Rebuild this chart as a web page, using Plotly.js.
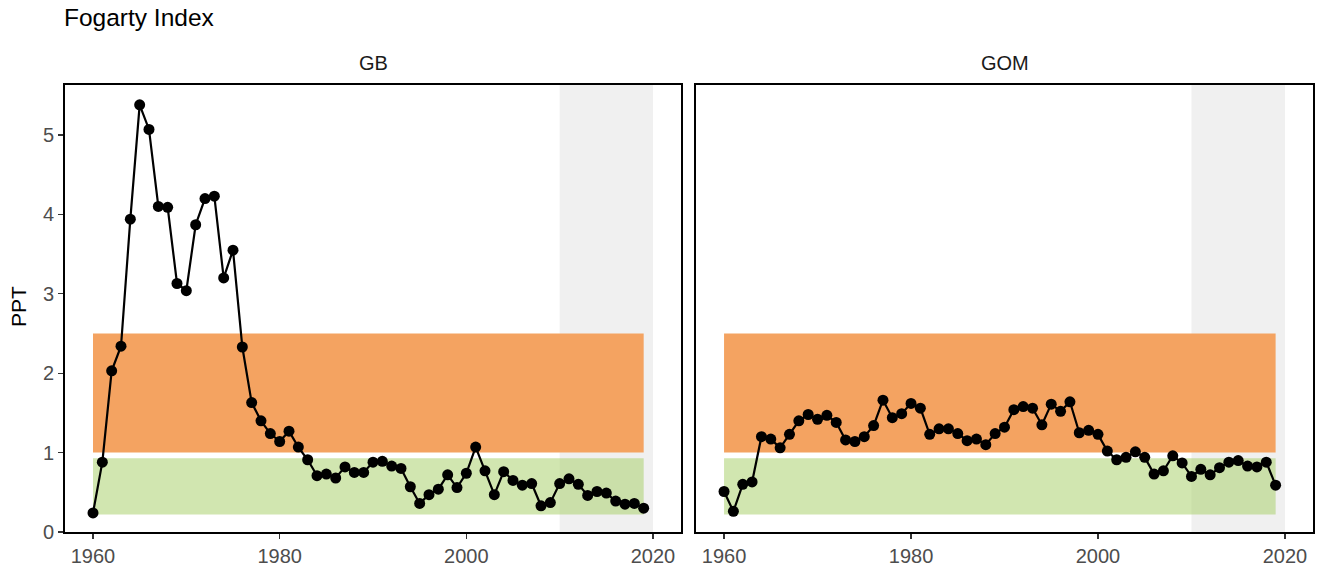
<!DOCTYPE html>
<html>
<head>
<meta charset="utf-8">
<script src="https://cdn.plot.ly/plotly-3.0.1.min.js"></script>
<style>html,body{margin:0;padding:0;background:#fff;}#chart{width:1320px;height:569px;}</style>
</head>
<body>
<div id="chart"></div>
<script>
// ---- data ----
const years = [1960,1961,1962,1963,1964,1965,1966,1967,1968,1969,
  1970,1971,1972,1973,1974,1975,1976,1977,1978,1979,
  1980,1981,1982,1983,1984,1985,1986,1987,1988,1989,
  1990,1991,1992,1993,1994,1995,1996,1997,1998,1999,
  2000,2001,2002,2003,2004,2005,2006,2007,2008,2009,
  2010,2011,2012,2013,2014,2015,2016,2017,2018,2019];
const gbValues = [0.24,0.88,2.03,2.34,3.94,5.38,5.07,4.10,4.09,3.13,
  3.04,3.87,4.20,4.23,3.20,3.55,2.33,1.63,1.40,1.24,
  1.14,1.27,1.07,0.91,0.71,0.73,0.68,0.82,0.75,0.75,
  0.88,0.89,0.83,0.80,0.57,0.36,0.47,0.54,0.72,0.56,
  0.74,1.07,0.77,0.47,0.76,0.65,0.59,0.61,0.33,0.37,
  0.61,0.67,0.60,0.46,0.51,0.49,0.39,0.35,0.36,0.30];
const gomValues = [0.51,0.26,0.60,0.63,1.20,1.17,1.06,1.23,1.40,1.48,
  1.42,1.47,1.38,1.16,1.14,1.20,1.34,1.66,1.44,1.49,
  1.62,1.56,1.23,1.30,1.30,1.24,1.15,1.17,1.10,1.24,
  1.32,1.54,1.58,1.56,1.35,1.61,1.52,1.64,1.25,1.28,
  1.23,1.02,0.91,0.94,1.01,0.94,0.73,0.77,0.96,0.87,
  0.70,0.79,0.72,0.81,0.88,0.90,0.83,0.82,0.88,0.59];
const panels = ["GB", "GOM"];
const ribbonYears = [1960, 2019];
const highBand = [1.0, 2.5];
const lowBand = [0.22, 0.93];
const recentYears = [2010, 2020];
const xTicks = [1960, 1980, 2000, 2020];
const yTicks = [0, 1, 2, 3, 4, 5];

// ---- layout ----
const W = 1320, H = 569;
const FONT = "Liberation Sans, Arial, sans-serif";
const frameTop = 85, frameBottom = 532;
const panelX = [[65, 681], [696, 1313]];
const yDom = [1 - frameBottom / H, 1 - frameTop / H];

function axisBase() {
  return {
    showline: true, mirror: true, linecolor: "#000", linewidth: 2,
    showgrid: false, zeroline: false,
    ticks: "outside", ticklen: 5, tickwidth: 1.2, tickcolor: "#333",
    tickfont: {family: FONT, size: 20, color: "#4d4d4d"}
  };
}

const traces = [];
const shapes = [];
const annotations = [];
const layout = {
  width: W, height: H,
  margin: {l: 0, r: 0, t: 0, b: 0},
  paper_bgcolor: "#fff", plot_bgcolor: "#fff",
  showlegend: false,
  font: {family: FONT}
};

const series = [gbValues, gomValues];
panels.forEach((name, i) => {
  const xa = i === 0 ? "x" : "x2";
  const ya = i === 0 ? "y" : "y2";
  const xKey = i === 0 ? "xaxis" : "xaxis2";
  const yKey = i === 0 ? "yaxis" : "yaxis2";
  layout[xKey] = Object.assign(axisBase(), {
    domain: [panelX[i][0] / W, panelX[i][1] / W],
    range: [1957, 2023], tickvals: xTicks, ticktext: xTicks.map(String),
    anchor: ya
  });
  layout[yKey] = Object.assign(axisBase(), {
    domain: yDom, range: [0, 5.63], tickvals: yTicks,
    ticktext: yTicks.map(String), anchor: xa,
    showticklabels: i === 0,
    ticks: i === 0 ? "outside" : ""
  });
  // recent period shading
  shapes.push({type: "rect", layer: "below", xref: xa, yref: ya + " domain",
    x0: recentYears[0], x1: recentYears[1], y0: 0, y1: 1,
    fillcolor: "#f0f0f0", line: {width: 0}});
  shapes.push({type: "rect", layer: "below", xref: xa, yref: ya,
    x0: ribbonYears[0], x1: ribbonYears[1], y0: highBand[0], y1: highBand[1],
    fillcolor: "#F4A361", line: {width: 0}});
  shapes.push({type: "rect", layer: "below", xref: xa, yref: ya,
    x0: ribbonYears[0], x1: ribbonYears[1], y0: lowBand[0], y1: lowBand[1],
    fillcolor: "rgba(163,206,98,0.5)", line: {width: 0}});
  traces.push({
    type: "scatter", mode: "lines+markers", x: years, y: series[i],
    xaxis: xa, yaxis: ya,
    line: {color: "#000", width: 2.2},
    marker: {color: "#000", size: 11},
    hoverinfo: "x+y"
  });
  annotations.push({text: name, xref: "paper", yref: "paper",
    x: (panelX[i][0] + panelX[i][1]) / 2 / W, y: 1 - 63 / H,
    xanchor: "center", yanchor: "middle", showarrow: false,
    font: {family: FONT, size: 20, color: "#1a1a1a"}});
});

annotations.push({text: "Fogarty Index", xref: "paper", yref: "paper",
  x: 62 / W, y: 1 - 17 / H, xanchor: "left", yanchor: "middle", showarrow: false,
  font: {family: FONT, size: 24.5, color: "#000"}});
annotations.push({text: "PPT", xref: "paper", yref: "paper",
  x: 18 / W, y: 1 - 307 / H, xanchor: "center", yanchor: "middle", showarrow: false,
  textangle: -90, font: {family: FONT, size: 21, color: "#000"}});

layout.shapes = shapes;
layout.annotations = annotations;

Plotly.newPlot("chart", traces, layout, {displayModeBar: false, staticPlot: true});
</script>
</body>
</html>
